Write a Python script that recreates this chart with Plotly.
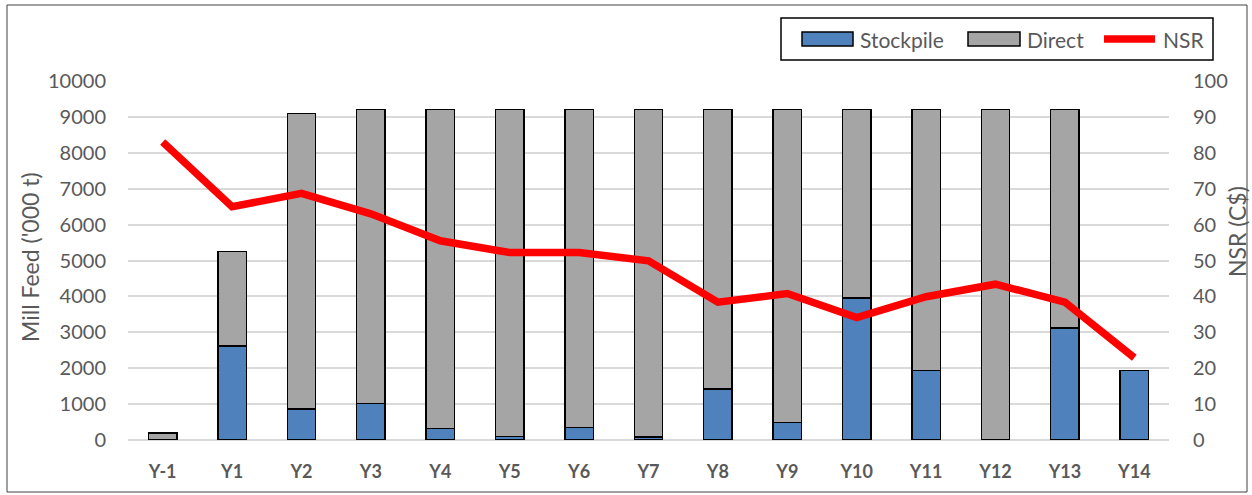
import plotly.graph_objects as go

years = ["Y-1", "Y1", "Y2", "Y3", "Y4", "Y5", "Y6", "Y7", "Y8", "Y9", "Y10", "Y11", "Y12", "Y13", "Y14"]
stockpile = [0, 2620, 860, 1020, 320, 100, 350, 80, 1420, 490, 3950, 1940, 0, 3120, 1930]
direct = [190, 2630, 8240, 8180, 8880, 9100, 8850, 9120, 7780, 8710, 5250, 7260, 9200, 6080, 0]
nsr = [83, 65, 68.7, 63, 55.5, 52.2, 52.2, 49.9, 38.4, 40.8, 34.1, 39.9, 43.4, 38.4, 22.9]

W, H = 1252, 495
ML, MR, MT, MB = 128, 83, 81, 55
PW, PH = W - ML - MR, H - MT - MB

def px_x(p):
    return (p - ML) / PW

def px_y(p):
    return (H - MB - p) / PH

FONT = "Lato, 'Open Sans', sans-serif"
TXT = "#595959"
BLUE, GREY, RED = "#4F81BD", "#A5A5A5", "#FF0000"

fig = go.Figure()
fig.add_trace(go.Bar(x=years, y=stockpile, name="Stockpile", showlegend=False,
                     marker=dict(color=BLUE, line=dict(color="black", width=1.5))))
fig.add_trace(go.Bar(x=years, y=direct, name="Direct", showlegend=False,
                     marker=dict(color=GREY, line=dict(color="black", width=1.5))))
fig.add_trace(go.Scatter(x=years, y=nsr, name="NSR", yaxis="y2", mode="lines", showlegend=False,
                         line=dict(color=RED, width=7.5)))

fig.update_layout(
    width=W, height=H,
    margin=dict(l=ML, r=MR, t=MT, b=MB),
    barmode="stack", bargap=0.59,
    plot_bgcolor="white", paper_bgcolor="white",
    font=dict(family=FONT, size=20, color=TXT),
    xaxis=dict(showgrid=False, showline=False,
               tickfont=dict(size=18, color=TXT, family=FONT, weight="bold"),
               ticklabelstandoff=19),
    yaxis=dict(range=[0, 10000], dtick=1000, tickformat="d", gridcolor="#D9D9D9", gridwidth=1.5,
               zeroline=True, zerolinecolor="#D9D9D9", zerolinewidth=1.5,
               tickfont=dict(size=20, color=TXT), ticklabelstandoff=21),
    yaxis2=dict(range=[0, 100], dtick=10, overlaying="y", side="right", showgrid=False,
                zeroline=False, tickfont=dict(size=20, color=TXT), ticklabelstandoff=23),
    showlegend=False,
)

# axis titles
fig.add_annotation(text="Mill Feed ('000 t)", textangle=-90, xref="paper", yref="paper",
                   x=px_x(30), y=px_y(257), xanchor="center", yanchor="middle", showarrow=False,
                   font=dict(size=23, color=TXT))
fig.add_annotation(text="NSR (C$)", textangle=-90, xref="paper", yref="paper",
                   x=px_x(1237), y=px_y(232), xanchor="center", yanchor="middle", showarrow=False,
                   font=dict(size=23, color=TXT))

# legend (drawn manually to match wide swatches)
fig.add_shape(type="rect", xref="paper", yref="paper",
              x0=px_x(781), x1=px_x(1213), y0=px_y(60), y1=px_y(18),
              line=dict(color="black", width=1.5), fillcolor="white")
legend_items = [("Stockpile", BLUE, 802, 853, 858), ("Direct", GREY, 968, 1020, 1025)]
for name, col, a, b, t in legend_items:
    fig.add_shape(type="rect", xref="paper", yref="paper",
                  x0=px_x(a), x1=px_x(b), y0=px_y(46), y1=px_y(32),
                  line=dict(color="black", width=1.5), fillcolor=col)
    fig.add_annotation(text=name, xref="paper", yref="paper", x=px_x(t), y=px_y(39),
                       xanchor="left", yanchor="middle", showarrow=False,
                       font=dict(size=21, color=TXT))
fig.add_shape(type="line", xref="paper", yref="paper",
              x0=px_x(1104), x1=px_x(1155), y0=px_y(39), y1=px_y(39),
              line=dict(color=RED, width=7.5))
fig.add_annotation(text="NSR", xref="paper", yref="paper", x=px_x(1161), y=px_y(39),
                   xanchor="left", yanchor="middle", showarrow=False,
                   font=dict(size=21, color=TXT))

# outer chart border
fig.add_shape(type="rect", xref="paper", yref="paper",
              x0=px_x(7), x1=px_x(1247), y0=px_y(492), y1=px_y(5),
              line=dict(color="#404040", width=1), layer="below")

fig.write_html("out.html")
